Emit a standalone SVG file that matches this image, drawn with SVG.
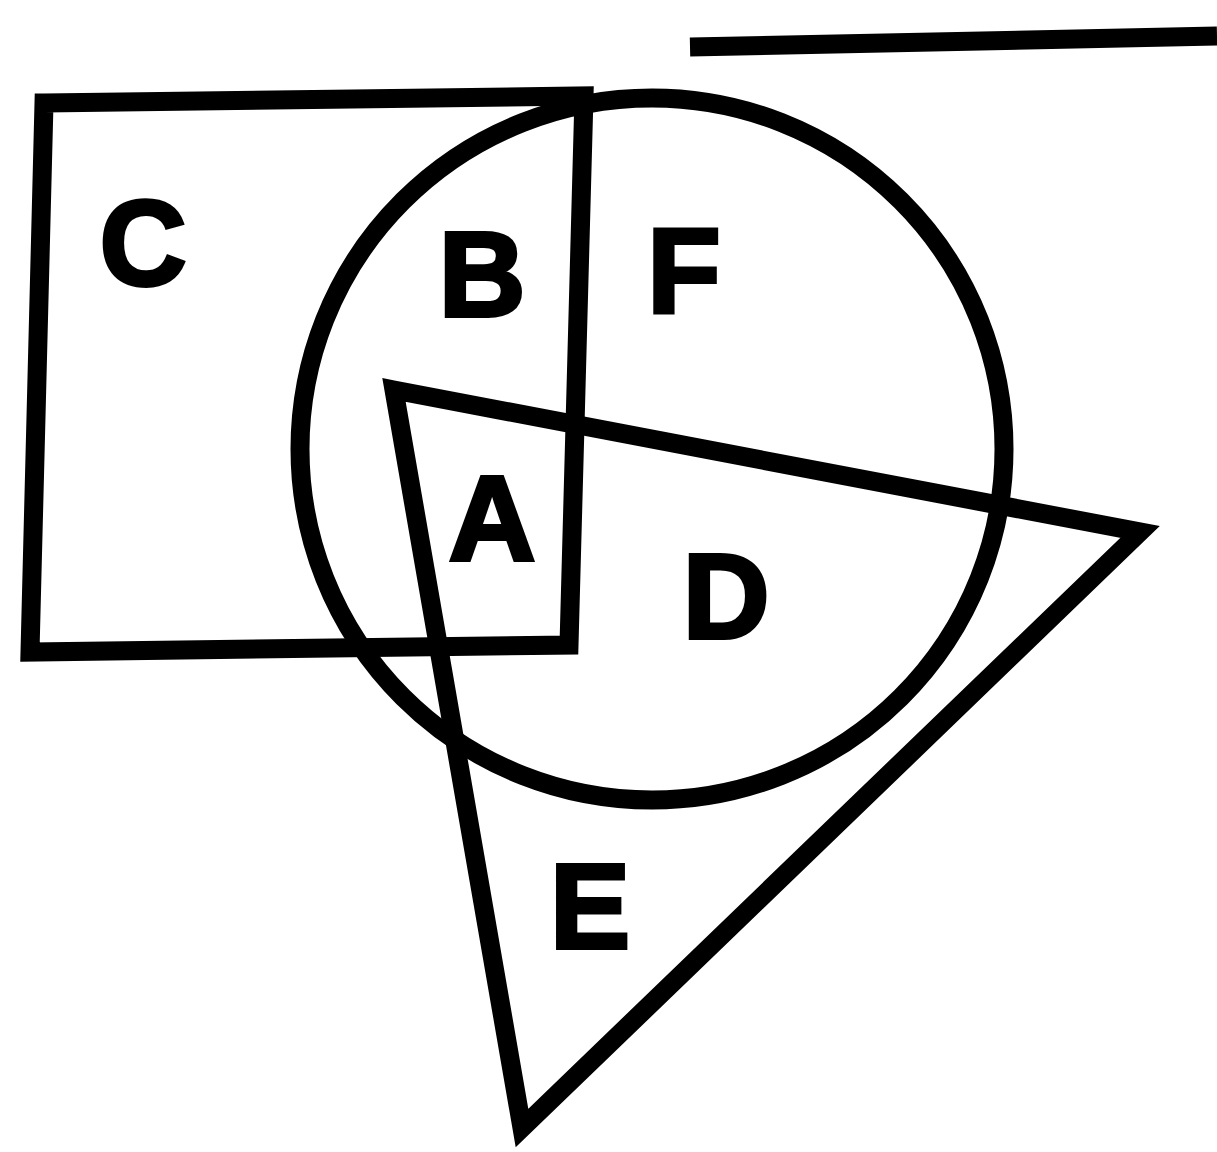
<svg xmlns="http://www.w3.org/2000/svg" width="1217" height="1152" viewBox="0 0 1217 1152">
<style>
.s{fill:none;stroke:#000;stroke-width:19;stroke-linejoin:miter}
.t{font-family:"Liberation Sans",Arial,sans-serif;font-weight:bold;font-size:120px;fill:#000;stroke:#000;stroke-width:4;text-anchor:middle}
</style>
<rect width="1217" height="1152" fill="#fff"/>
<g id="line"><path class="s" d="M690 47 L1217 36" stroke-width="16"/></g>
<g id="rect"><path class="s" d="M44 103 L584 96 L569 645 L30 652 Z"/></g>
<g id="circle"><ellipse class="s" cx="652" cy="449" rx="352" ry="351" stroke-width="18"/></g>
<g id="triangle"><path class="s" d="M394 390 L1140 532 L522 1128 Z"/></g>
<g id="labels">
<text class="t" x="143" y="285">C</text>
<text class="t" x="482" y="316">B</text>
<text class="t" x="684" y="312">F</text>
<text class="t" x="492" y="560">A</text>
<text class="t" x="726" y="638">D</text>
<text class="t" x="590" y="948">E</text>
</g>
</svg>
